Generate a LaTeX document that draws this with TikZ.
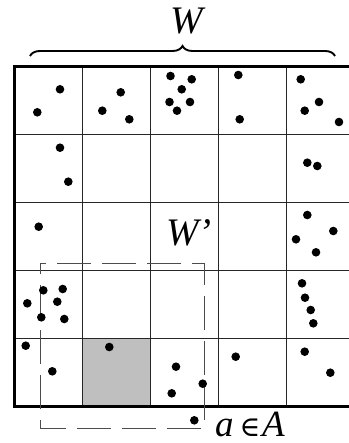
\documentclass[tikz,border=0pt]{standalone}
\usepackage{fontspec}
\setmainfont{Liberation Serif}
\newfontfamily\symfont{DejaVu Serif}
\usetikzlibrary{decorations.pathreplacing}
\begin{document}
\begin{tikzpicture}[x=1pt,y=-1pt,
  thinline/.style={line width=0.9pt,draw=black!85},
  frameline/.style={line width=2.6pt,draw=black},
  dashbox/.style={line width=0.9pt,draw=black!70,dash pattern=on 34pt off 11pt,dash phase=28pt},
  bigtext/.style={inner sep=0pt,font=\fontsize{39}{39}\selectfont\itshape},
  midtext/.style={inner sep=0pt,font=\fontsize{37}{37}\selectfont\itshape},
  bracestyle/.style={line width=1.9pt,decorate,decoration={brace,amplitude=10pt}}]
\useasboundingbox (0,0) rectangle (348,443);
% gray cell
\fill[black!25] (82.5,338.7) rectangle (150.5,406.7);
% grid
\foreach \x in {82.5,150.5,218.5,286.5}
  \draw[thinline] (\x,66.7) -- (\x,406.7);
\foreach \y in {134.7,202.7,270.7,338.7}
  \draw[thinline] (14.5,\y) -- (354.5,\y);
\draw[frameline] (14.5,66.7) rectangle (354.5,406.7);
% dashed region W'
\draw[dashbox] (40,263.5) -- (204.3,263.5) -- (204.3,428) -- (40,428) -- cycle;
% dots
\foreach \p in {(60,89.3),(37.3,112.3),
  (120.7,92.3),(102.3,110.7),(129.3,119.3),
  (170.5,76),(191.7,79.3),(181.7,89.3),(169.5,102),(190,102),(177,110.7),
  (238.3,75),(239.7,119.3),
  (300.7,79.3),(319,102),(304.7,110.7),(339,122),
  (60,147.7),(68.3,181.7),
  (307.3,162.7),(317.3,166),
  (38.7,226.7),
  (307.3,215),(333.3,231),(296,239.3),(316,252.3),
  (43.3,290.3),(62.7,289),(27.3,303.3),(57.3,301.7),(41.3,317.3),(64.3,319),
  (302,283.3),(305,297.7),(310.7,310),(313.3,323.3),
  (25.7,345.7),(52.3,371.3),
  (109.3,347),
  (176,366.7),(171.7,393.3),(202.7,383.7),
  (235.7,356.7),
  (304.7,351.7),(330.3,372.7),
  (194.3,420.3)}
  \fill \p circle[radius=4.3pt];
% brace and labels
\coordinate (bl) at (30,56);
\coordinate (br) at (335,56);
\draw[bracestyle] (bl) -- (br);
\node[bigtext,anchor=base] (W) at (187,34) {W};
\node[bigtext,anchor=base west] (Wp) at (166,245) {W’};
\node[midtext,anchor=base west] (a) at (215,436.7) {a};
\node[inner sep=0pt,anchor=base,font=\symfont\fontsize{28}{28}\selectfont] (in) at (250,436.7) {∈};
\node[midtext,anchor=base west] (A) at (262,436.7) {A};
\end{tikzpicture}
\end{document}
